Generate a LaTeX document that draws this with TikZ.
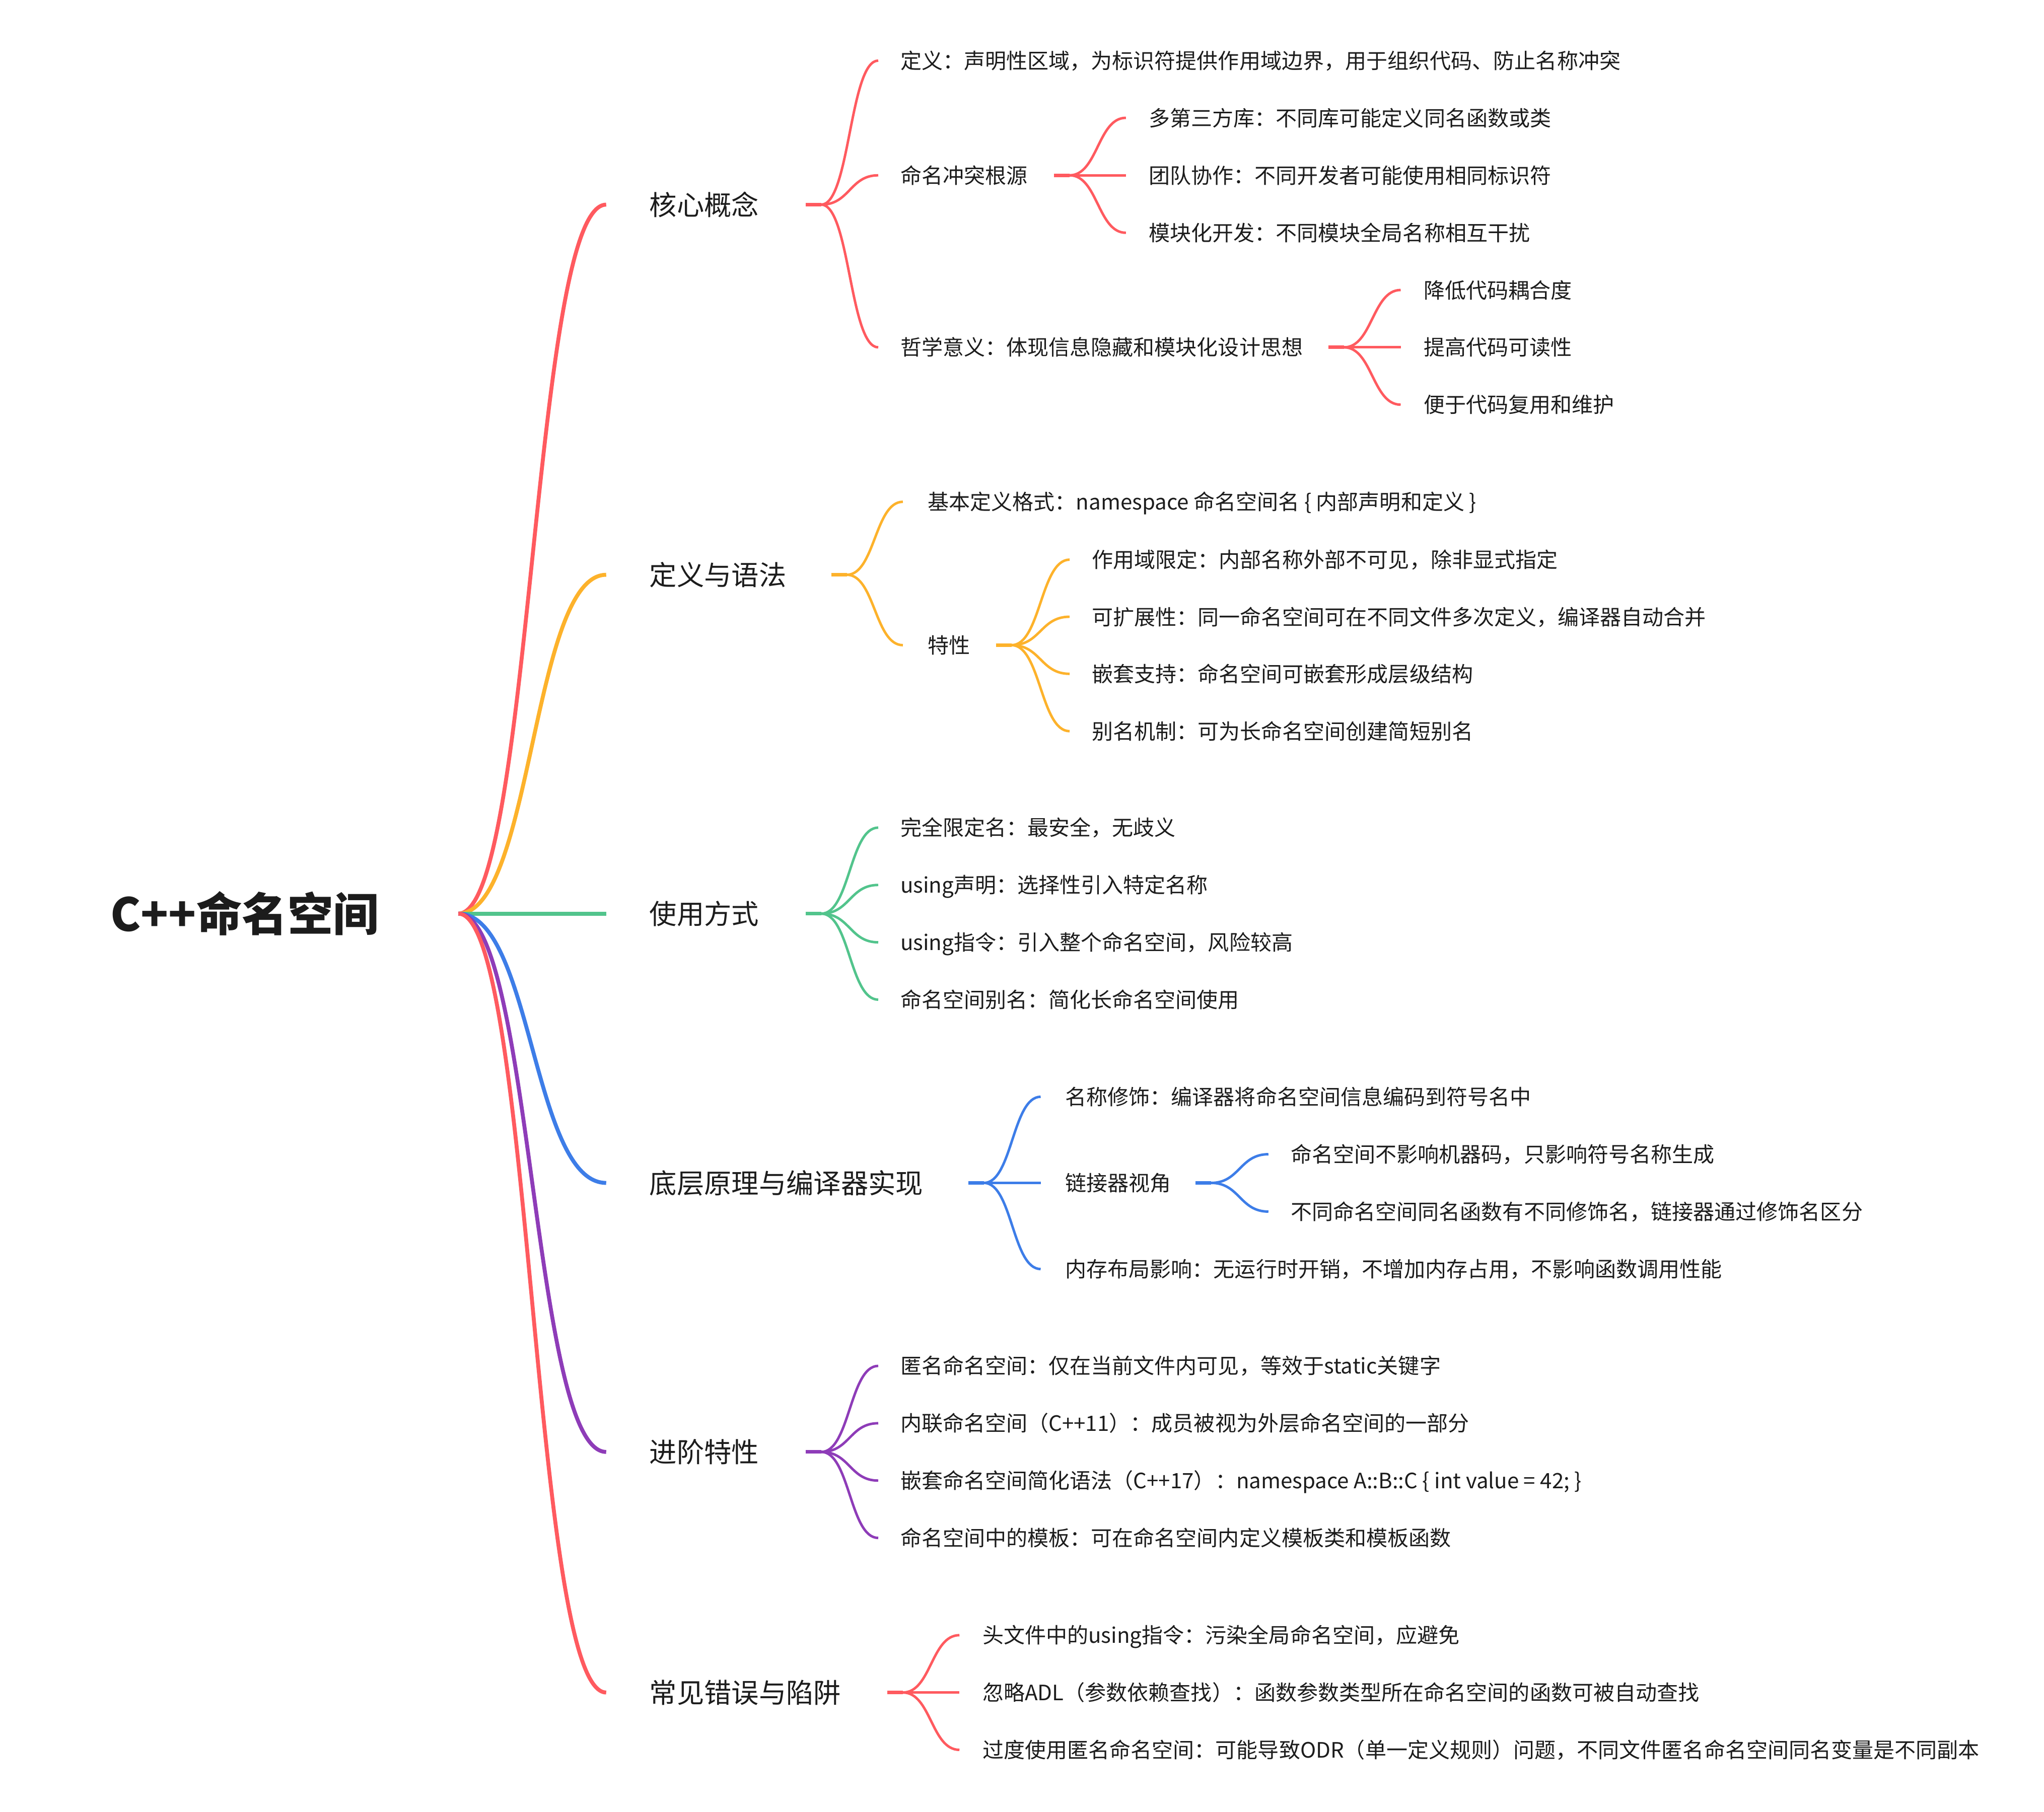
\documentclass[tikz,border=0pt]{standalone}
\usepackage{fontspec}
\setmainfont{Noto Sans CJK SC}
\usetikzlibrary{calc}
\definecolor{cred}{HTML}{FF5A5F}
\definecolor{corange}{HTML}{FDB22B}
\definecolor{cgreen}{HTML}{52C48C}
\definecolor{cblue}{HTML}{3D7DE8}
\definecolor{cpurple}{HTML}{8E3CB8}
\definecolor{ink}{HTML}{1C1C1C}
\tikzset{
  bcurve/.style={to path={let \p1=(\tikztostart), \p2=(\tikztotarget) in
     .. controls ({0.5*\x1+0.5*\x2},\y1) and ({0.5*\x1+0.5*\x2},\y2) .. (\tikztotarget)}},
  eroot/.style={line width=3pt},
  ekid/.style={line width=1.9pt},
  stubline/.style={line width=2.7pt},
  troot/.style={anchor=base west, inner sep=0pt, text=ink, font=\fontsize{35}{40}\selectfont\bfseries, yshift=-13.3pt},
  tone/.style={anchor=base west, inner sep=0pt, text=ink, font=\fontsize{21}{25}\selectfont, yshift=-8pt},
  ttwo/.style={anchor=base west, inner sep=0pt, text=ink, font=\fontsize{16.25}{20}\selectfont, yshift=-6.2pt},
}
% junction: name, x0, y, colour
\newcommand\mmjunc[4]{%
  \coordinate (#1-s) at (#2,#3);
  \coordinate (#1-j) at ({#2+12},#3);
  \draw[stubline,#4] (#1-s) -- (#1-j);}
% child: name, parent, x end, x text, y, text, colour
\newcommand\mmkid[7]{%
  \coordinate (#1-in) at (#3,#5);
  \draw[ekid,#7] (#2-j) to[bcurve] (#1-in);
  \node[ttwo] (#1) at (#4,#5) {#6};}
% level one: name, y, text, colour
\newcommand\mmone[4]{%
  \coordinate (#1-in) at (465,#2);
  \draw[eroot,#4] (rj) to[bcurve] (#1-in);
  \node[tone] (#1) at (498,#2) {#3};}
\begin{document}
\begin{tikzpicture}[x=1pt,y=-1pt]
\fill[white] (0,0) rectangle (1568,1390);
\useasboundingbox (0,0) rectangle (1568,1390);

\node[troot] (root) at (84.5,701) {C++命名空间};
\coordinate (rj) at (351.6,701);

% ---------- 核心概念 ----------
\mmone{A}{157}{核心概念}{cred}
\mmjunc{A}{618}{157}{cred}
\mmkid{A1}{A}{673.7}{690.5}{46.5}{定义：声明性区域，为标识符提供作用域边界，用于组织代码、防止名称冲突}{cred}
\mmkid{A2}{A}{673.7}{690.5}{134.5}{命名冲突根源}{cred}
\mmkid{A3}{A}{673.7}{690.5}{266.5}{哲学意义：体现信息隐藏和模块化设计思想}{cred}
\mmjunc{A2}{808.5}{134.5}{cred}
\mmkid{A21}{A2}{863.7}{881}{90.4}{多第三方库：不同库可能定义同名函数或类}{cred}
\mmkid{A22}{A2}{863.7}{881}{134.5}{团队协作：不同开发者可能使用相同标识符}{cred}
\mmkid{A23}{A2}{863.7}{881}{178.6}{模块化开发：不同模块全局名称相互干扰}{cred}
\mmjunc{A3}{1019}{266.5}{cred}
\mmkid{A31}{A3}{1074.5}{1092}{222.5}{降低代码耦合度}{cred}
\mmkid{A32}{A3}{1074.5}{1092}{266.5}{提高代码可读性}{cred}
\mmkid{A33}{A3}{1074.5}{1092}{310.5}{便于代码复用和维护}{cred}

% ---------- 定义与语法 ----------
\mmone{B}{441}{定义与语法}{corange}
\mmjunc{B}{637.6}{441}{corange}
\mmkid{B1}{B}{692.6}{711.5}{385}{基本定义格式：namespace 命名空间名 \{ 内部声明和定义 \}}{corange}
\mmkid{B2}{B}{692.6}{711.5}{495}{特性}{corange}
\mmjunc{B2}{764}{495}{corange}
\mmkid{B21}{B2}{820.5}{837.3}{429.4}{作用域限定：内部名称外部不可见，除非显式指定}{corange}
\mmkid{B22}{B2}{820.5}{837.3}{473.2}{可扩展性：同一命名空间可在不同文件多次定义，编译器自动合并}{corange}
\mmkid{B23}{B2}{820.5}{837.3}{517}{嵌套支持：命名空间可嵌套形成层级结构}{corange}
\mmkid{B24}{B2}{820.5}{837.3}{561}{别名机制：可为长命名空间创建简短别名}{corange}

% ---------- 使用方式 ----------
\mmone{C}{701}{使用方式}{cgreen}
\mmjunc{C}{618}{701}{cgreen}
\mmkid{C1}{C}{673.7}{690.5}{635}{完全限定名：最安全，无歧义}{cgreen}
\mmkid{C2}{C}{673.7}{690.5}{679}{using声明：选择性引入特定名称}{cgreen}
\mmkid{C3}{C}{673.7}{690.5}{723}{using指令：引入整个命名空间，风险较高}{cgreen}
\mmkid{C4}{C}{673.7}{690.5}{767}{命名空间别名：简化长命名空间使用}{cgreen}

% ---------- 底层原理与编译器实现 ----------
\mmone{D}{907.6}{底层原理与编译器实现}{cblue}
\mmjunc{D}{742.8}{907.6}{cblue}
\mmkid{D1}{D}{798.3}{817}{841.5}{名称修饰：编译器将命名空间信息编码到符号名中}{cblue}
\mmkid{D2}{D}{798.3}{817}{907.6}{链接器视角}{cblue}
\mmkid{D3}{D}{798.3}{817}{973.7}{内存布局影响：无运行时开销，不增加内存占用，不影响函数调用性能}{cblue}
\mmjunc{D2}{917}{907.6}{cblue}
\mmkid{D21}{D2}{973}{990}{885.6}{命名空间不影响机器码，只影响符号名称生成}{cblue}
\mmkid{D22}{D2}{973}{990}{929.6}{不同命名空间同名函数有不同修饰名，链接器通过修饰名区分}{cblue}

% ---------- 进阶特性 ----------
\mmone{E}{1114}{进阶特性}{cpurple}
\mmjunc{E}{618}{1114}{cpurple}
\mmkid{E1}{E}{673.7}{690.5}{1048}{匿名命名空间：仅在当前文件内可见，等效于static关键字}{cpurple}
\mmkid{E2}{E}{673.7}{690.5}{1092}{内联命名空间（C++11）：成员被视为外层命名空间的一部分}{cpurple}
\mmkid{E3}{E}{673.7}{690.5}{1136}{嵌套命名空间简化语法（C++17）：namespace A::B::C \{ int value = 42; \}}{cpurple}
\mmkid{E4}{E}{673.7}{690.5}{1180}{命名空间中的模板：可在命名空间内定义模板类和模板函数}{cpurple}

% ---------- 常见错误与陷阱 ----------
\mmone{F}{1298.6}{常见错误与陷阱}{cred}
\mmjunc{F}{680.6}{1298.6}{cred}
\mmkid{F1}{F}{736}{753.5}{1254.6}{头文件中的using指令：污染全局命名空间，应避免}{cred}
\mmkid{F2}{F}{736}{753.5}{1298.6}{忽略ADL（参数依赖查找）：函数参数类型所在命名空间的函数可被自动查找}{cred}
\mmkid{F3}{F}{736}{753.5}{1342.6}{过度使用匿名命名空间：可能导致ODR（单一定义规则）问题，不同文件匿名命名空间同名变量是不同副本}{cred}
\end{tikzpicture}
\end{document}
